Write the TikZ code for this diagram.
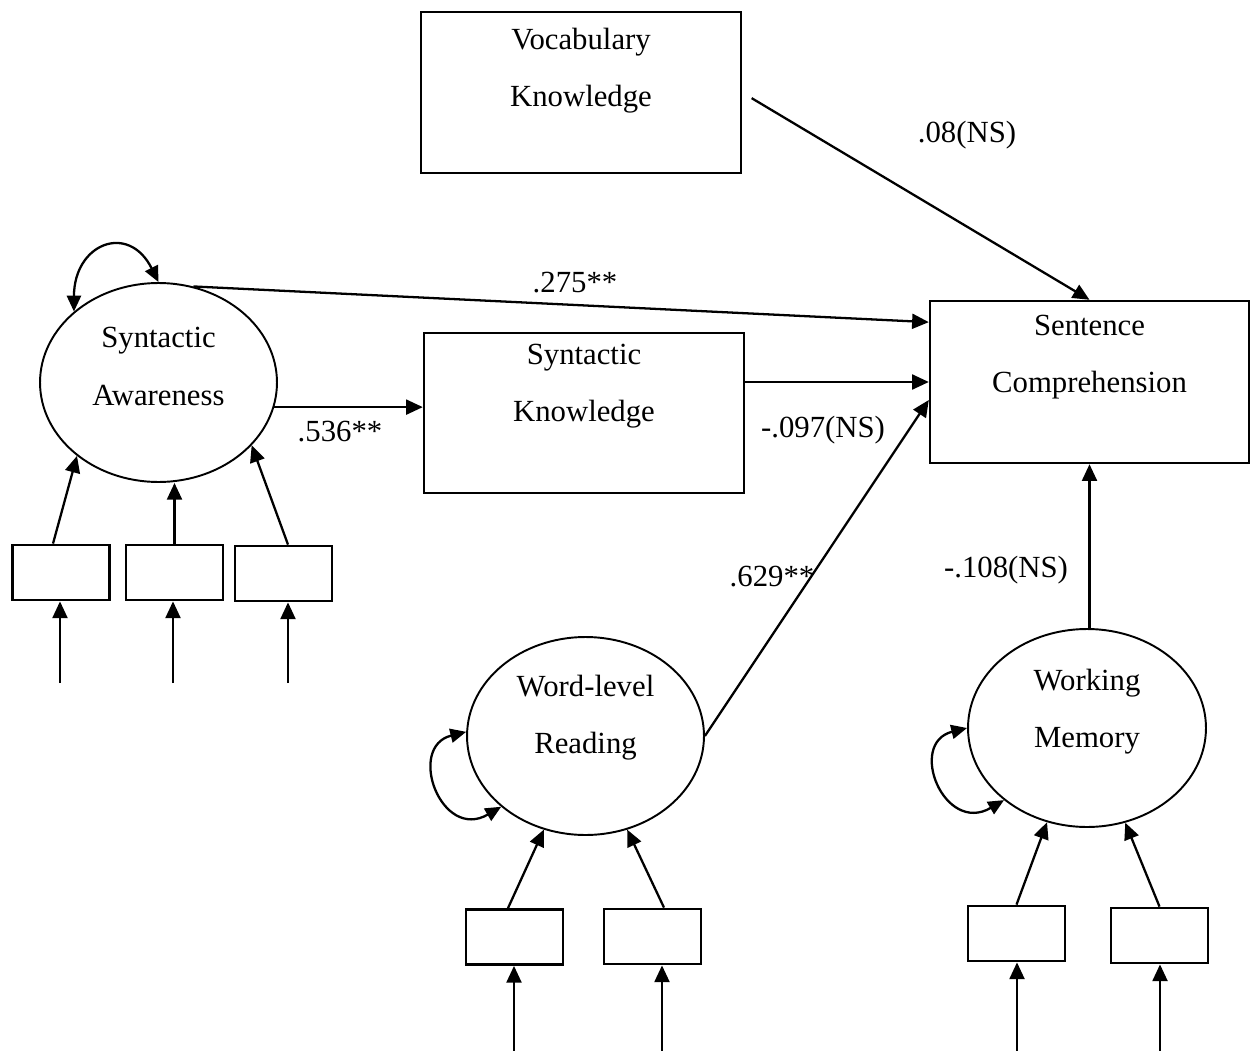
\documentclass[tikz,border=0pt]{standalone}
\usepackage{fontspec}
\setmainfont{Liberation Serif}
\usetikzlibrary{shapes.geometric,arrows.meta,calc}
\begin{document}
\begin{tikzpicture}[x=0.02cm,y=-0.02cm,
  font=\fontsize{17.5}{32.6}\selectfont,
  bigbox/.style={draw,line width=1.4pt,minimum width=6.4cm,minimum height=3.22cm,inner sep=0pt},
  latent/.style={draw,ellipse,line width=1.1pt,minimum width=4.74cm,minimum height=3.98cm,inner sep=0pt},
  small/.style={draw,line width=1.6pt,minimum width=1.94cm,minimum height=1.1cm,inner sep=0pt},
  arr/.style={line width=1.3pt,-{Triangle[length=9.5pt,width=8.5pt]}},
  darr/.style={line width=1.3pt,{Triangle[length=9pt,width=8pt]}-{Triangle[length=9pt,width=8pt]}},
  txt/.style={align=center,inner sep=0pt}
]
\useasboundingbox (0,0) rectangle (1251,1051);

% main boxes
\node[bigbox] (voc) at (581,92.5) {};
\node[txt] (voct) at ($(voc.center)+(0,-22)$) {Vocabulary\\Knowledge};
\node[bigbox,minimum width=6.38cm,minimum height=3.24cm] (sc) at (1089.5,382) {};
\node[txt] (sct) at ($(sc.center)+(0,-25)$) {Sentence\\Comprehension};
\node[bigbox,minimum height=3.2cm] (sk) at (584,413) {};
\node[txt] (skt) at ($(sk.center)+(0,-27)$) {Syntactic\\Knowledge};

% latent variables
\node[latent] (sa) at (158.5,382.5) {};
\node[txt] (sat) at ($(sa.center)+(0,-16)$) {Syntactic\\Awareness};
\node[latent,minimum height=3.96cm] (wlr) at (585.5,736) {};
\node[txt] (wlrt) at ($(wlr.center)+(0,-18)$) {Word-level\\Reading};
\node[latent,minimum width=4.76cm,minimum height=3.96cm] (wm) at (1087,728) {};
\node[txt] (wmt) at ($(wm.center)+(0,-16)$) {Working\\Memory};

% indicator boxes
\node[small] (b1) at (61,572.5) {};
\node[small] (b2) at (174.5,572.5) {};
\node[small] (b3) at (283.5,573.5) {};
\node[small] (c1) at (514.5,937) {};
\node[small] (c2) at (652.5,936.5) {};
\node[small] (d1) at (1016.5,933.5) {};
\node[small] (d2) at (1159.5,935.5) {};

% error arrows (free ends)
\coordinate (e1) at (60,683);
\coordinate (e2) at (173,683);
\coordinate (e3) at (288,683);
\coordinate (f1) at (514,1051);
\coordinate (f2) at (662,1051);
\coordinate (g1) at (1017,1051);
\coordinate (g2) at (1160,1051);
\draw[arr] (e1) -- (e1 |- b1.south);
\draw[arr] (e2) -- (e2 |- b2.south);
\draw[arr] (e3) -- (e3 |- b3.south);
\draw[arr] (f1) -- (f1 |- c1.south);
\draw[arr] (f2) -- (f2 |- c2.south);
\draw[arr] (g1) -- (g1 |- d1.south);
\draw[arr] (g2) -- (g2 |- d2.south);

% indicator to latent
\draw[arr] ([xshift=-0.16cm]b1.north) -- (sa.222);
\draw[arr] (b2.north) -- (b2.north |- sa.south);
\draw[arr] ([xshift=0.09cm]b3.north) -- (sa.-34);
\draw[arr] ([xshift=-0.13cm]c1.north) -- (wlr.-114);
\draw[arr] ([xshift=0.23cm]c2.north) -- (wlr.-66);
\draw[arr] (d1.north) -- (wm.-113);
\draw[arr] (d2.north) -- (wm.-68);

% self loops
\draw[darr] (sa.140) .. controls +(0,-68) and +(-30,-60) .. (sa.north);
\draw[darr] (wlr.178) .. controls +(-60,15) and +(-60,35) .. (wlr.220);
\draw[darr] (wm.180) .. controls +(-60,15) and +(-60,35) .. (wm.221);

% structural paths
\draw[arr,shorten <=0.22cm] (voc.east) -- (sc.north);
\draw[arr] (sa.70) -- ($(sc.north west)!0.136!(sc.south west)$);
\draw[arr] (sa.-12) -- (sa.-12 -| sk.west);
\draw[arr] (sk.east |- sc.west) -- (sc.west);
\draw[arr] (wlr.east) -- ($(sc.west)+(0,18)$);
\draw[arr] (sc.south |- wm.north) -- (sc.south);

% path labels
\node[txt] (l1) at (967,135) {.08(NS)};
\node[txt] (l2) at (575,283) {.275**};
\node[txt] (l3) at (340,432) {.536**};
\node[txt] (l4) at (823,430) {-.097(NS)};
\node[txt] (l5) at (772,577) {.629**};
\node[txt] (l6) at (1006,570) {-.108(NS)};
\end{tikzpicture}
\end{document}
